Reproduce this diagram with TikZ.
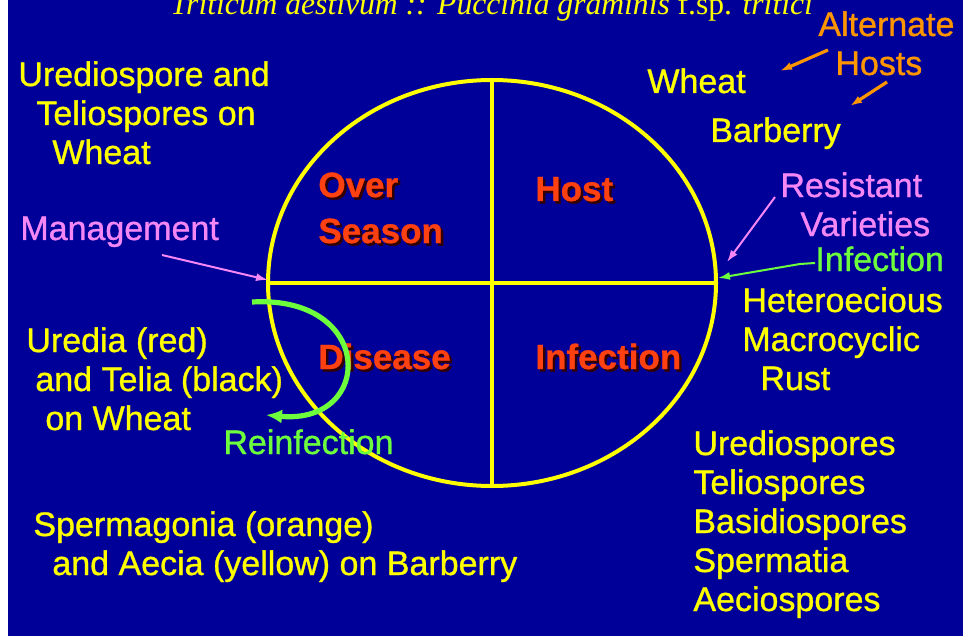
\documentclass[tikz,border=0pt]{standalone}
\usepackage{fontspec}
\setmainfont{Liberation Sans}[FakeBold=0.9]
\newfontfamily\titlefont{Liberation Serif}
\usetikzlibrary{positioning,arrows.meta,shapes.geometric}
\definecolor{slideblue}{RGB}{0,0,153}
\definecolor{sunyellow}{RGB}{255,255,0}
\definecolor{quadred}{RGB}{255,64,16}
\definecolor{quadshadow}{RGB}{50,0,0}
\definecolor{mgmtpink}{RGB}{245,135,245}
\definecolor{infgreen}{RGB}{110,255,60}
\definecolor{altorange}{RGB}{255,150,0}
\newcommand{\shadowed}[1]{\makebox[0pt][l]{\hspace{1.2pt}\raisebox{-1.2pt}{\color{quadshadow}#1}}#1}

\begin{document}
\begin{tikzpicture}[
   x=0.5pt,y=-0.5pt,
   txt/.style={anchor=base west,inner sep=0pt,align=left,text=sunyellow,
      font=\fontsize{17}{19.5}\selectfont},
   quad/.style={anchor=base west,inner sep=0pt,align=left,text=quadred,
      font=\fontsize{17.5}{23}\selectfont\bfseries},
   note/.style={txt,text=#1},
   ptr/.style={-{Latex[length=6pt,width=4pt]},line width=1pt,#1},
]
\fill[white] (0,0) rectangle (963,636);
\fill[slideblue] (8,0) rectangle (963,636);
\useasboundingbox (0,0) rectangle (963,636);

% title, cut off at the top
\begin{scope}
\clip (8,0) rectangle (963,636);
\node[anchor=base west,inner sep=0pt,text=sunyellow,
   font=\fontsize{15.8}{18}\selectfont\titlefont] (title) at (170,15)
   {\itshape Triticum aestivum :: Puccinia graminis \upshape f.sp. \itshape tritici};
\end{scope}

% disease cycle
\node[ellipse,draw=sunyellow,line width=2pt,minimum width=224pt,minimum height=203pt]
   (cycle) at (492,283) {};
\draw[sunyellow,line width=2pt] (cycle.north) -- (cycle.south);
\draw[sunyellow,line width=2pt] (cycle.west) -- (cycle.east);

% (multi-line nodes sit on the baseline of their last line)
\node[quad] (over) at (318,243) {\shadowed{Over}\\\shadowed{Season}};
\node[quad] (host) at (535,201) {\shadowed{Host}};
\node[quad] (disease) at (318,369) {\shadowed{Disease}};
\node[quad] (infection) at (535,369) {\shadowed{Infection}};

% labels round the cycle
\node[txt] (urediospore) at (18,164)
   {Urediospore and\\\hspace*{9pt}Teliospores on\\\hspace*{17pt}Wheat};
\node[txt] (wheat) at (647,93) {Wheat};
\node[txt] (barberry) at (710,142) {Barberry};
\node[note=altorange] (alternate) at (818,75) {Alternate\\\hspace*{8.5pt}Hosts};
\node[note=mgmtpink] (management) at (20,240) {Management};
\node[note=mgmtpink] (resistant) at (780,236) {Resistant\\\hspace*{10pt}Varieties};
\node[note=infgreen] (inflabel) at (815,271) {Infection};
\node[txt] (rust) at (742,390) {Heteroecious\\Macrocyclic\\\hspace*{9pt}Rust};
\node[txt] (uredia) at (26,430)
   {Uredia (red)\\\hspace*{4.5pt}and Telia (black)\\\hspace*{9.5pt}on Wheat};
\node[note=infgreen] (reinfection) at (223,454) {Reinfection};
\node[txt] (spores) at (693,611)
   {Urediospores\\Teliospores\\Basidiospores\\Spermatia\\Aeciospores};
\node[txt] (spermagonia) at (33,575)
   {Spermagonia (orange)\\\hspace*{9.5pt}and Aecia (yellow) on Barberry};

% pointers
\coordinate (alt1) at (828,50);
\coordinate (alt1tip) at (780,71);
\coordinate (alt2) at (887,82);
\coordinate (alt2tip) at (850,106);
\coordinate (mgmt) at (162,255);
\coordinate (mgmttip) at (268,280);
\coordinate (res) at (775,197);
\coordinate (restip) at (727,262);
\coordinate (inf) at (815,263);
\coordinate (infbend) at (800,264);
\coordinate (inftip) at (718,278);
\coordinate (reinf) at (252,302);
\coordinate (reinftip) at (266,415);

\draw[ptr=altorange,line width=1.6pt] (alt1) -- (alt1tip);
\draw[ptr=altorange,line width=1.6pt] (alt2) -- (alt2tip);
\draw[ptr=mgmtpink] (mgmt) -- (mgmttip);
\draw[ptr=mgmtpink] (res) -- (restip);
\draw[ptr=infgreen] (inf) -- (infbend) -- (inftip);
\draw[infgreen,line width=2.6pt,-{Latex[length=8pt,width=7pt]}]
   (reinf) .. controls (375,295) and (375,425) .. (reinftip);
\end{tikzpicture}
\end{document}
